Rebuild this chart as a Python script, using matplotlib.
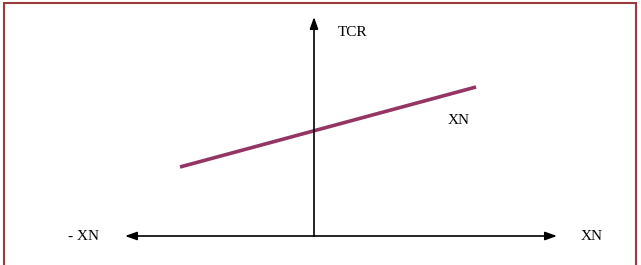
import matplotlib.pyplot as plt
from matplotlib.patches import Rectangle

plt.rcParams['font.family'] = ['Liberation Serif', 'DejaVu Serif']

# Diagram data (origin at the axis crossing)
x_axis = [-189, 243]
y_axis = [0, 219]
line_x = [-134, 162]
line_y = [69, 149]
labels = ['TCR', 'XN', '- XN', 'XN']
label_x = [39, 145, -230, 278]
label_y = [204, 115, 0, 0]

fig = plt.figure(figsize=(6.41, 2.65), dpi=100)
ax = fig.add_axes([0, 0, 1, 1])
ax.set_xlim(-314, 327)
ax.set_ylim(-29, 236)
ax.axis('off')

arrow = dict(arrowstyle='-|>,head_length=0.7,head_width=0.25', color='black', lw=1.2,
             shrinkA=0, shrinkB=0)
ax.annotate('', xy=(x_axis[1], 0), xytext=(0, 0), arrowprops=arrow)
ax.annotate('', xy=(x_axis[0], 0), xytext=(0, 0), arrowprops=arrow)
ax.annotate('', xy=(0, y_axis[1]), xytext=(0, y_axis[0]), arrowprops=arrow)

ax.plot(line_x, line_y, color='#943563', lw=2.6, solid_capstyle='butt')

for t, x, y in zip(labels, label_x, label_y):
    ax.text(x, y, t, ha='center', va='center', fontsize=11)

# outer frame
fig.patches.append(Rectangle((4 / 641, -0.05), 632 / 641, 1.05 - 3 / 265, transform=fig.transFigure,
                             fill=False, edgecolor='#9b3a3a', lw=1.5))

fig.savefig('out.png', dpi=100)
